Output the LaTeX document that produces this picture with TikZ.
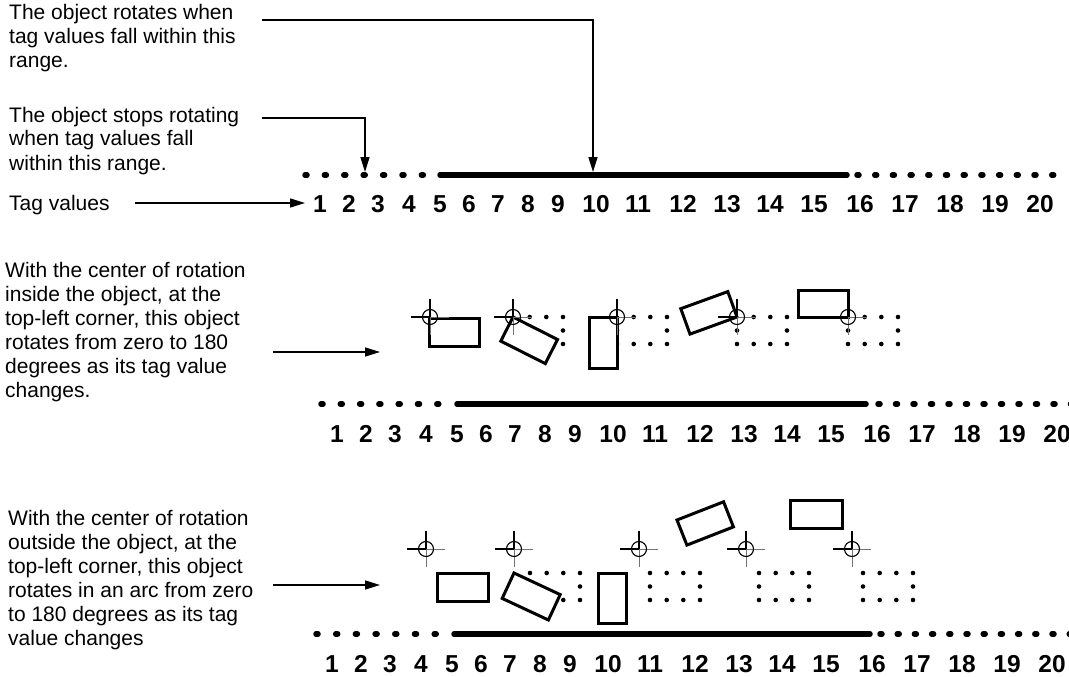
\documentclass[tikz,border=0pt]{standalone}
\usepackage{fontspec}
\setmainfont{Liberation Sans}
\usetikzlibrary{arrows.meta}
\newcommand\txtlines[1]{\begin{tabular}[t]{@{}l@{}}#1\end{tabular}}
\begin{document}
\begin{tikzpicture}[x=1pt,y=-1pt,
  lbl/.style={inner sep=0pt, anchor=base west, font=\fontsize{21}{24}\selectfont},
  num/.style={inner sep=0pt, anchor=base, font=\fontsize{24.5}{27}\selectfont\bfseries},
  arr/.style={line width=1.5pt, -{Triangle[length=15pt,width=9pt]}},
  thickline/.style={line width=5.5pt, line cap=round},
  nldot/.style={line width=5.5pt, line cap=round},
  obj/.style={line width=3pt, fill=white, line join=miter},
  crosshair/.pic={
    \draw[line width=1.3pt] (-19,0) -- (0,0) (0,-18) -- (0,0);
    \draw[line width=0.9pt, black!55] (0,0) -- (19,0) (0,0) -- (0,18);
    \draw[line width=1.1pt] (0,0) circle[radius=7.5pt];
  },
  dotboxA/.pic={
    \foreach \a/\b in {16.7/0,33.3/0,50/0,50/13.5,50/27,33.3/27,16.7/27,0/27,0/13.5}
      \fill (\a,\b) circle[radius=2.3pt];
  },
  dotboxB/.pic={
    \foreach \a/\b in {0/0,16.7/0,33.3/0,50/0,50/13.5,50/27,33.3/27,16.7/27,0/27,0/13.5}
      \fill (\a,\b) circle[radius=2.3pt];
  }
]
\useasboundingbox (0,0) rectangle (1069,677);

% ---------- texts ----------
\node[lbl] (t1) at (9,20) {\txtlines{The object rotates when\\tag values fall within this\\range.}};
\node[lbl] (t2) at (9,122) {\txtlines{The object stops rotating\\when tag values fall\\within this range.}};
\node[lbl] (ttag) at (9,210) {Tag values};
\node[lbl] (t3) at (5,277) {\txtlines{With the center of rotation\\inside the object, at the\\top-left corner, this object\\rotates from zero to 180\\degrees as its tag value\\changes.}};
\node[lbl] (t4) at (8,525) {\txtlines{With the center of rotation\\outside the object, at the\\top-left corner, this object\\rotates in an arc from zero\\to 180 degrees as its tag\\value changes}};

% ---------- numbers ----------
\foreach \n/\x in {1/320,2/349,3/378,4/409,5/440,6/469,7/498,8/528,9/558,10/596,11/638,12/683,13/727,14/770,15/814,16/860,17/905,18/950,19/995,20/1040}{
  \node[num] (ra\n) at (\x,212) {\n};
  \node[num] (rb\n) at (\x+17,442) {\n};
  \node[num] (rc\n) at (\x+12,672) {\n};
}

% ---------- number lines ----------
\foreach \k in {0,...,6} \draw[nldot] (305+19.4*\k,175) -- ++(2,0);
\draw[thickline] (440,175) -- (847,175);
\foreach \k in {0,...,11} \draw[nldot] (857+17.7*\k,175) -- ++(2,0);

\foreach \k in {0,...,6} \draw[nldot] (321+19.3*\k,404) -- ++(2,0);
\draw[thickline] (457,404) -- (866,404);
\foreach \k in {0,...,11} \draw[nldot] (878+17.5*\k,404) -- ++(2,0);

\foreach \k in {0,...,6} \draw[nldot] (316+19.7*\k,634) -- ++(2,0);
\draw[thickline] (454,634) -- (870,634);
\foreach \k in {0,...,11} \draw[nldot] (880+17.2*\k,634) -- ++(2,0);

% ---------- arrows ----------
\coordinate (a1s) at (262,20);  \coordinate (a1e) at (593,172);
\coordinate (a2s) at (262,118); \coordinate (a2e) at (365,172);
\coordinate (a3s) at (135,203); \coordinate (a3e) at (305,203);
\coordinate (a4s) at (273,352); \coordinate (a4e) at (380,352);
\coordinate (a5s) at (273,585); \coordinate (a5e) at (380,585);
\draw[arr] (a1s) -| (a1e);
\draw[arr] (a2s) -| (a2e);
\draw[arr] (a3s) -- (a3e);
\draw[arr] (a4s) -- (a4e);
\draw[arr] (a5s) -- (a5e);

% ---------- middle row: centre inside ----------
\pic at (513,317) {dotboxA};
\pic at (617,317) {dotboxA};
\pic at (737,317) {dotboxA};
\pic at (848,317) {dotboxA};
\draw[obj] (429,318) rectangle (479,346);
\draw[obj] (513,317) -- (557.5,339.5) -- (545.3,363.6) -- (500.8,341.1) -- cycle;
\draw[obj] (589,317) rectangle (617,368);
\draw[obj] (737,317) -- (690,334.1) -- (680.8,308.7) -- (727.8,291.6) -- cycle;
\draw[obj] (798,290.5) rectangle (848,317);
\pic at (430,317) {crosshair};
\pic at (513,317) {crosshair};
\pic at (617,317) {crosshair};
\pic at (737,317) {crosshair};
\pic at (848,317) {crosshair};

% ---------- bottom row: centre outside ----------
\pic at (530,573) {dotboxB};
\pic at (650,573) {dotboxB};
\pic at (759,573) {dotboxB};
\pic at (863,573) {dotboxB};
\draw[obj] (437,573) rectangle (488,601);
\draw[obj] (514,573) -- (560.2,594.6) -- (548.4,620) -- (502.2,598.4) -- cycle;
\draw[obj] (598,573) rectangle (626,623);
\draw[obj] (677,520) -- (723.6,501.8) -- (733.4,526.9) -- (686.9,545.1) -- cycle;
\draw[obj] (790,500) rectangle (842,528);
\pic at (426,549) {crosshair};
\pic at (514,549) {crosshair};
\pic at (639,549) {crosshair};
\pic at (746,549) {crosshair};
\pic at (852,549) {crosshair};
\end{tikzpicture}
\end{document}
